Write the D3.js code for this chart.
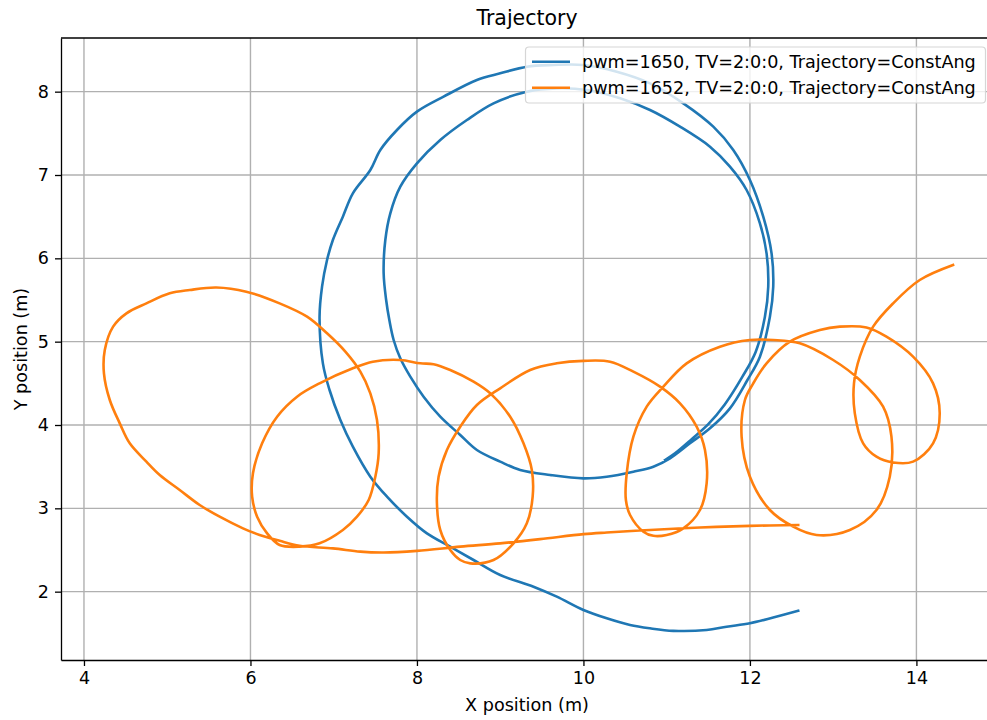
<!DOCTYPE html>
<html>
<head>
<meta charset="utf-8">
<script src="https://cdn.jsdelivr.net/npm/d3@7"></script>
<style>
    body { margin: 0; background: white; }
    svg text { font-family: 'DejaVu Sans', sans-serif; fill: #000; }
</style>
</head>
<body>
<script>

const xTicks = [4, 6, 8, 10, 12, 14]
const yTicks = [2, 3, 4, 5, 6, 7, 8]
const seriesNames = [
    'pwm=1650, TV=2:0:0, Trajectory=ConstAng',
    'pwm=1652, TV=2:0:0, Trajectory=ConstAng'
]

// x, y positions in metres
const pwm1650Track = [
    [12.58,1.77],[12.28,1.69],[12.00,1.62],[11.72,1.58],[11.48,1.54],[11.08,1.53],[10.80,1.56],[10.56,1.60],
    [10.28,1.68],[10.00,1.78],[9.68,1.94],[9.40,2.06],[9.00,2.20],[8.68,2.38],[8.40,2.54],[8.12,2.70],
    [7.88,2.90],[7.64,3.14],[7.44,3.38],[7.23,3.74],[7.08,4.06],[6.95,4.42],[6.87,4.74],[6.83,5.30],
    [6.86,5.66],[6.92,5.98],[6.99,6.22],[7.11,6.50],[7.23,6.78],[7.44,7.06],[7.56,7.30],[7.76,7.54],
    [8.00,7.76],[8.32,7.94],[8.72,8.14],[9.00,8.22],[9.32,8.30],[9.64,8.32],[10.00,8.32],[10.40,8.24],
    [10.80,8.10],[11.20,7.86],[11.56,7.58],[11.80,7.30],[12.00,6.94],[12.16,6.50],[12.26,6.06],[12.28,5.66],
    [12.24,5.30],[12.12,4.82],[11.97,4.54],[11.76,4.20],[11.52,3.96],[11.28,3.78],[11.04,3.60],[10.84,3.50],
    [10.60,3.44],[10.28,3.38],[10.00,3.36],[9.60,3.40],[9.24,3.46],[9.00,3.56],[8.72,3.70],[8.52,3.88],
    [8.28,4.10],[8.08,4.34],[7.92,4.58],[7.80,4.80],[7.72,5.02],[7.67,5.25],[7.63,5.50],[7.60,5.82],
    [7.62,6.22],[7.68,6.54],[7.80,6.86],[8.00,7.14],[8.28,7.42],[8.60,7.66],[8.92,7.86],[9.32,8.00],
    [9.68,8.04],[10.04,8.02],[10.44,7.92],[10.80,7.78],[11.16,7.58],[11.52,7.34],[11.76,7.10],[11.96,6.82],
    [12.12,6.42],[12.20,6.06],[12.22,5.66],[12.18,5.30],[12.07,4.88],[11.91,4.58],[11.70,4.25],[11.50,4.01],
    [11.30,3.83],[11.10,3.66],[10.98,3.58]
]

const pwm1652Track = [
    [12.58,2.80],[12.00,2.79],[11.40,2.77],[10.80,2.74],[10.28,2.71],[10.00,2.69],[9.48,2.63],[9.00,2.58],
    [8.52,2.54],[8.00,2.49],[7.60,2.47],[7.32,2.48],[6.99,2.52],[6.59,2.55],[6.35,2.61],[6.11,2.68],
    [5.91,2.76],[5.63,2.90],[5.39,3.04],[5.15,3.22],[4.91,3.40],[4.75,3.56],[4.55,3.78],[4.43,4.02],
    [4.31,4.30],[4.24,4.62],[4.25,4.90],[4.35,5.18],[4.51,5.34],[4.75,5.46],[5.03,5.58],[5.27,5.62],
    [5.59,5.65],[5.95,5.60],[6.35,5.46],[6.68,5.30],[6.92,5.10],[7.14,4.88],[7.32,4.64],[7.44,4.38],
    [7.52,4.06],[7.54,3.66],[7.50,3.38],[7.42,3.10],[7.28,2.90],[7.11,2.74],[6.83,2.58],[6.59,2.54],
    [6.35,2.56],[6.20,2.70],[6.08,2.90],[6.02,3.14],[6.03,3.42],[6.14,3.78],[6.32,4.10],[6.56,4.34],
    [6.83,4.50],[7.23,4.68],[7.47,4.76],[7.80,4.78],[8.04,4.74],[8.20,4.73],[8.40,4.66],[8.68,4.52],
    [8.88,4.38],[9.12,4.10],[9.28,3.78],[9.38,3.46],[9.39,3.14],[9.32,2.82],[9.16,2.58],[8.92,2.38],
    [8.64,2.34],[8.52,2.38],[8.40,2.50],[8.28,2.74],[8.24,3.06],[8.26,3.38],[8.36,3.70],[8.52,3.98],
    [8.72,4.24],[9.00,4.44],[9.36,4.66],[9.68,4.74],[10.00,4.77],[10.32,4.76],[10.60,4.64],[10.92,4.46],
    [11.16,4.26],[11.36,3.98],[11.46,3.70],[11.48,3.30],[11.40,2.98],[11.20,2.76],[11.00,2.68],[10.84,2.67],
    [10.72,2.72],[10.56,2.92],[10.51,3.10],[10.52,3.42],[10.60,3.86],[10.76,4.22],[10.96,4.46],[11.24,4.74],
    [11.64,4.94],[12.00,5.02],[12.28,5.02],[12.60,4.98],[13.00,4.78],[13.32,4.54],[13.60,4.22],[13.70,3.86],
    [13.68,3.38],[13.52,2.98],[13.20,2.74],[12.80,2.68],[12.52,2.78],[12.24,2.98],[12.00,3.38],[11.90,3.86],
    [11.94,4.30],[12.04,4.50],[12.20,4.74],[12.48,5.00],[12.84,5.14],[13.08,5.18],[13.40,5.17],[13.64,5.06],
    [13.96,4.82],[14.20,4.50],[14.28,4.14],[14.20,3.78],[13.96,3.56],[13.72,3.55],[13.52,3.62],[13.36,3.78],
    [13.26,4.14],[13.25,4.50],[13.32,4.82],[13.48,5.18],[13.72,5.46],[14.04,5.74],[14.44,5.92]
]

const colors = ['#1f77b4', '#ff7f0e']

const width = 987
const height = 720
const box = {left: 61, top: 38, right: 993, bottom: 660}

const x = d3.scaleLinear().domain([3.724, 14.92]).range([box.left, box.right])
const y = d3.scaleLinear().domain([1.18, 8.644]).range([box.bottom, box.top])

const svg = d3.select('body').append('svg')
    .attr('width', width)
    .attr('height', height)

svg.append('defs').append('clipPath')
    .attr('id', 'plotClip')
    .append('rect')
    .attr('x', box.left)
    .attr('y', box.top)
    .attr('width', box.right - box.left)
    .attr('height', box.bottom - box.top)

// grid
const grid = svg.append('g').attr('class', 'grid')
grid.selectAll('line.gx').data(xTicks).join('line')
    .attr('class', 'gx')
    .attr('x1', d => x(d)).attr('x2', d => x(d))
    .attr('y1', box.top).attr('y2', box.bottom)
grid.selectAll('line.gy').data(yTicks).join('line')
    .attr('class', 'gy')
    .attr('x1', box.left).attr('x2', box.right)
    .attr('y1', d => y(d)).attr('y2', d => y(d))
grid.selectAll('line')
    .attr('stroke', '#b0b0b0')
    .attr('stroke-width', 1.4)

// tracks
const line = d3.line()
    .x(d => x(d[0]))
    .y(d => y(d[1]))
    .curve(d3.curveCatmullRom.alpha(0.5))

svg.append('g')
    .attr('clip-path', 'url(#plotClip)')
    .selectAll('path')
    .data([pwm1650Track, pwm1652Track])
    .join('path')
    .attr('d', line)
    .attr('fill', 'none')
    .attr('stroke', (d, i) => colors[i])
    .attr('stroke-width', 2.6)
    .attr('stroke-linejoin', 'round')
    .attr('stroke-linecap', 'square')

// axes
function styleAxis(g){
    g.attr('font-family', "'DejaVu Sans', sans-serif").attr('font-size', 17.5)
    g.selectAll('.domain').attr('stroke', '#000').attr('stroke-width', 1.3)
    g.selectAll('.tick line').attr('stroke', '#000').attr('stroke-width', 1.3)
    g.selectAll('.tick text').attr('fill', '#000')
}

svg.append('g')
    .attr('transform', `translate(0,${box.bottom})`)
    .call(d3.axisBottom(x).tickValues(xTicks).tickSize(6).tickPadding(6).tickSizeOuter(0))
    .call(styleAxis)

svg.append('g')
    .attr('transform', `translate(${box.left},0)`)
    .call(d3.axisLeft(y).tickValues(yTicks).tickSize(6).tickPadding(6).tickSizeOuter(0))
    .call(styleAxis)

svg.append('line')
    .attr('x1', box.left).attr('x2', box.right)
    .attr('y1', box.top).attr('y2', box.top)
    .attr('stroke', '#000')
    .attr('stroke-width', 1.3)

// labels
svg.append('text')
    .attr('x', (box.left + box.right) / 2)
    .attr('y', 25)
    .attr('text-anchor', 'middle')
    .attr('font-size', 20.5)
    .text('Trajectory')

svg.append('text')
    .attr('x', (box.left + box.right) / 2)
    .attr('y', 711)
    .attr('text-anchor', 'middle')
    .attr('font-size', 17.6)
    .text('X position (m)')

svg.append('text')
    .attr('transform', `translate(27,${(box.top + box.bottom) / 2}) rotate(-90)`)
    .attr('text-anchor', 'middle')
    .attr('font-size', 17.6)
    .text('Y position (m)')

// legend
const legend = svg.append('g').attr('class', 'legend')
legend.append('rect')
    .attr('x', 525.5).attr('y', 47)
    .attr('width', 460).attr('height', 56)
    .attr('rx', 3.5)
    .attr('fill', 'white').attr('fill-opacity', 0.8)
    .attr('stroke', '#d6d6d6').attr('stroke-width', 1.2)

const rows = legend.selectAll('g.row').data(seriesNames).join('g')
    .attr('class', 'row')
    .attr('transform', (d, i) => `translate(0,${61.7 + i * 26})`)

rows.append('line')
    .attr('x1', 532).attr('x2', 570)
    .attr('stroke', (d, i) => colors[i])
    .attr('stroke-width', 2.6)

rows.append('text')
    .attr('x', 582)
    .attr('y', 6.6)
    .attr('font-size', 17.6)
    .text(d => d)

</script>
</body>
</html>
